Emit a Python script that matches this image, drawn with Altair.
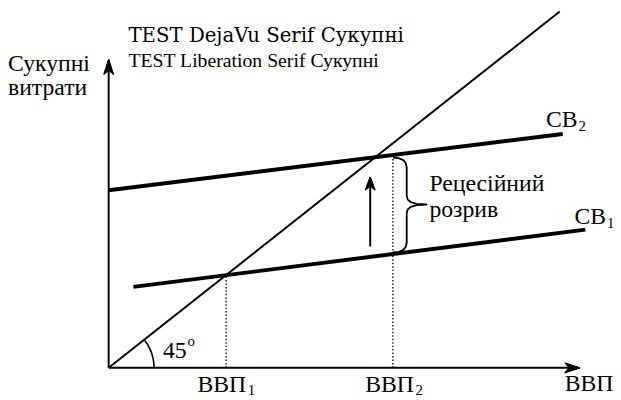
import math
import altair as alt
import pandas as pd

# Geometry in pixel-like units, origin at the crossing of the axes
line45_x = [0, 457]
line45_y = [0, 361]
cb1_x = [25, 483]
cb1_y = [82, 140]
cb2_x = [0, 460]
cb2_y = [180, 237]
gdp_x = [119, 288]
gdp_top = [94, 216]
yaxis_top = 312
xaxis_end = 477
gap_x = 265
gap_y = [123, 193]
brace_x = [288, 294, 298.5, 301, 302, 302, 303, 306, 312, 322,
           312, 306, 303, 302, 302, 301, 298.5, 294, 288]
brace_y = [213, 212.4, 210.5, 207.5, 203, 174, 170.5, 168, 166.2, 165.5,
           164.8, 163, 160.5, 157, 127, 122.5, 119.5, 117.6, 117]
angle_deg = [0, 6, 12, 18, 24, 30, 38.3]
arc_r = 46

main_text = ["Сукупні", "витрати", "Рецесійний", "розрив",
             "СВ", "СВ", "45", "ВВП", "ВВП", "ВВП"]
main_x = [-102, -102, 325, 325, 443, 472, 55, 90, 260, 462]
main_y = [301, 276, 179, 153, 244, 146, 10, -24, -24, -23]
sub_text = ["2", "1", "o", "1", "2"]
sub_x = [476, 505, 80, 141, 311]
sub_y = [240, 142, 22, -28, -28]

X_DOM = [-102, 511]
Y_DOM = [-30, 362]
W, H = 613, 392

xs = alt.Scale(domain=X_DOM, nice=False, zero=False)
ys = alt.Scale(domain=Y_DOM, nice=False, zero=False)


def seg_df(segs):
    rows = []
    for sid, (xx, yy) in enumerate(segs):
        for i, (a, b) in enumerate(zip(xx, yy)):
            rows.append({"seg": sid, "i": i, "x": a, "y": b})
    return pd.DataFrame(rows)


def lines(df, width, dash=None):
    kw = dict(color="black", strokeWidth=width, strokeCap="butt", strokeJoin="round")
    if dash:
        kw["strokeDash"] = dash
    return alt.Chart(df).mark_line(**kw).encode(
        x=alt.X("x:Q", scale=xs, axis=None),
        y=alt.Y("y:Q", scale=ys, axis=None),
        detail="seg:N",
        order="i:Q",
    )


def fan(tx, ty, ux, uy, length, half, notch, n=13):
    px, py = -uy, ux
    segs = []
    for k in range(n):
        t = -1 + 2 * k / (n - 1)
        back = length - (length - notch) * (1 - abs(t))
        segs.append(([tx, tx - ux * back + px * half * t],
                     [ty, ty - uy * back + py * half * t]))
    return segs


thick = lines(seg_df([(cb1_x, cb1_y), (cb2_x, cb2_y)]), 4)
thin = lines(seg_df([
    (line45_x, line45_y),
    ([0, 0], [0, yaxis_top - 8]),
    ([0, xaxis_end - 8], [0, 0]),
    ([gap_x, gap_x], [gap_y[0], gap_y[1] - 6]),
]), 2)
brace = lines(seg_df([(brace_x, brace_y)]), 1.8)
dotted = lines(seg_df([
    ([gdp_x[0], gdp_x[0]], [0, gdp_top[0]]),
    ([gdp_x[1], gdp_x[1]], [0, gdp_top[1]]),
]), 1.3, dash=[1.5, 2])
arc = lines(seg_df([(
    [arc_r * math.cos(math.radians(a)) for a in angle_deg],
    [arc_r * math.sin(math.radians(a)) for a in angle_deg],
)]), 1.6)
heads = lines(seg_df(
    fan(0, yaxis_top, 0, 1, 15, 5, 11)
    + fan(xaxis_end, 0, 1, 0, 15, 5, 11)
    + fan(gap_x, gap_y[1], 0, 1, 13, 5, 9.5)
), 1.3)


def text_layer(tx, xx, yy, fs, font):
    df = pd.DataFrame({"x": xx, "y": yy, "text": tx})
    return alt.Chart(df).mark_text(
        font=font, fontSize=fs, align="left", baseline="alphabetic"
    ).encode(
        x=alt.X("x:Q", scale=xs, axis=None),
        y=alt.Y("y:Q", scale=ys, axis=None),
        text="text:N",
    )


main_labels = text_layer(main_text, main_x, main_y, 24, "Times New Roman")
sub_labels = text_layer(sub_text, sub_x, sub_y, 15, "Times New Roman")
test1 = text_layer(["TEST DejaVu Serif Сукупні"], [20], [330], 20, "DejaVu Serif")
test2 = text_layer(["TEST Liberation Serif Сукупні"], [20], [305], 20, "Liberation Serif")

chart = alt.layer(main_labels, sub_labels, test1, test2, dotted, thin, thick, brace, arc, heads).properties(
    width=W, height=H, padding=0, autosize=alt.AutoSizeParams(type="none"),
    background="white",
).configure_view(stroke=None)

chart.save("out.html", embed_options={"renderer": "svg", "actions": False})
